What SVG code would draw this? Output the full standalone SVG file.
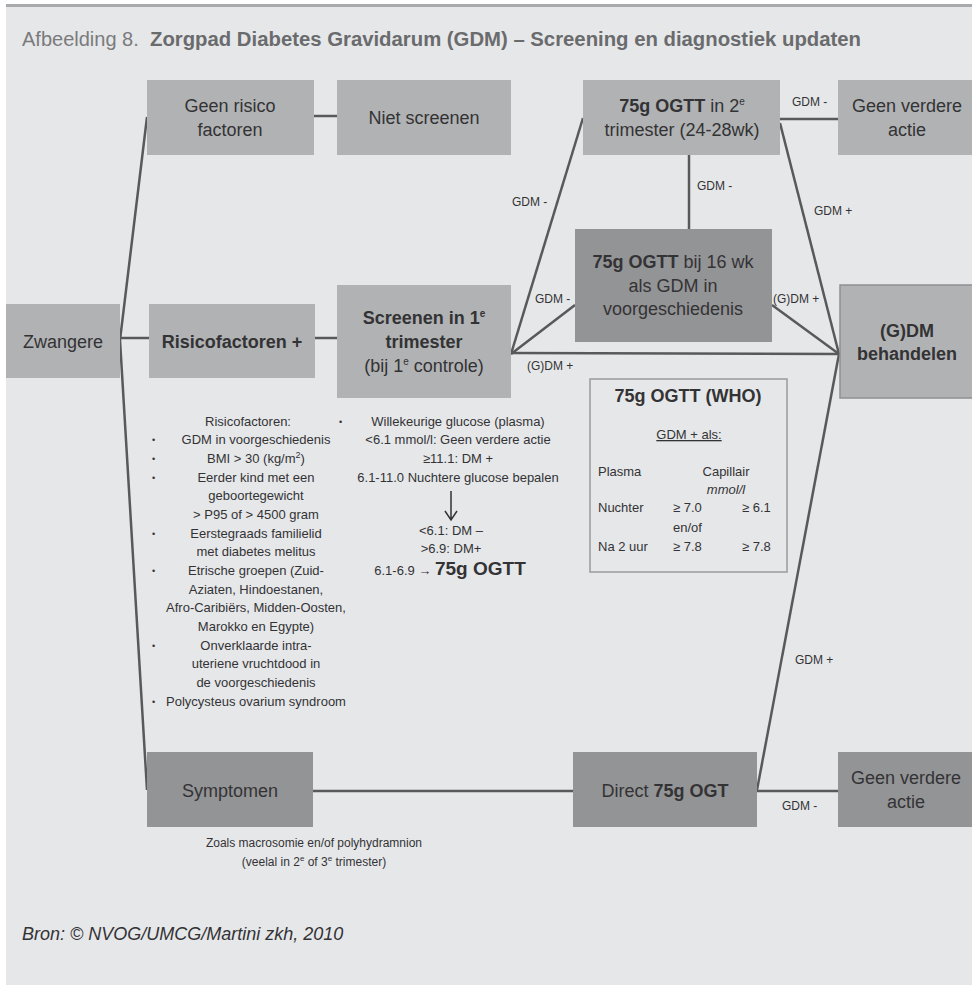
<svg xmlns="http://www.w3.org/2000/svg" width="972" height="985" viewBox="0 0 972 985">
<style>
text{font-family:"Liberation Sans",Arial,sans-serif;fill:#333335}
.n{font-size:18px;text-anchor:middle}
.b{font-weight:bold}
.lbl{font-size:12px}
.s{font-size:13px;text-anchor:middle}
.w{font-size:13px}
.light{fill:#b1b2b4}
.dark{fill:#939496}
.conn path{stroke:#58595b;stroke-width:2.5;fill:none}
</style>
<rect x="0" y="0" width="972" height="985" fill="#ffffff"/>
<rect x="6" y="5" width="966" height="980" fill="#e6e7e9"/>
<rect x="6" y="4" width="966" height="3" fill="#a9aaac"/>
<text x="22" y="46" font-size="20" style="fill:#7a7b7d">Afbeelding 8. <tspan class="b" style="fill:#6a6b6d" x="150" textLength="711" lengthAdjust="spacingAndGlyphs">Zorgpad Diabetes Gravidarum (GDM) – Screening en diagnostiek updaten</tspan></text>

<g class="conn">
<path d="M147,117 L120,340 L147,790"/>
<path d="M120,338 H149"/>
<path d="M315,338 H337"/>
<path d="M314,116 H337"/>
<path d="M511,354 L583,118"/>
<path d="M511,354 L575,305"/>
<path d="M511,353 L839,354"/>
<path d="M689,155 V229"/>
<path d="M780,119 H838"/>
<path d="M780,123 L839,354"/>
<path d="M772,305 L839,354"/>
<path d="M839,354 L757,790"/>
<path d="M313,791 H573"/>
<path d="M757,791 H838"/>
</g>
<g id="edge-labels">
<text class="lbl" x="512" y="206">GDM -</text>
<text class="lbl" x="535" y="303">GDM -</text>
<text class="lbl" x="527" y="370">(G)DM +</text>
<text class="lbl" x="697" y="190">GDM -</text>
<text class="lbl" x="792" y="106">GDM -</text>
<text class="lbl" x="814" y="215">GDM +</text>
<text class="lbl" x="773" y="303">(G)DM +</text>
<text class="lbl" x="795" y="664">GDM +</text>
<text class="lbl" x="782" y="810">GDM -</text>
</g>

<g id="geen-risico">
<rect class="light" x="147" y="80" width="167" height="75"/>
<text class="n" x="230" y="112">Geen risico</text>
<text class="n" x="230" y="136">factoren</text>
</g>
<g id="niet-screenen">
<rect class="light" x="337" y="80" width="174" height="75"/>
<text class="n" x="424" y="124">Niet screenen</text>
</g>
<g id="zwangere">
<rect class="light" x="6" y="304" width="114" height="74"/>
<text class="n" x="63" y="348">Zwangere</text>
</g>
<g id="risicofactoren">
<rect class="light" x="149" y="304" width="166" height="74"/>
<text class="n b" x="232" y="348">Risicofactoren +</text>
</g>
<g id="screenen">
<rect class="light" x="337" y="285" width="174" height="113"/>
<text class="n b" x="424" y="324">Screenen in 1<tspan font-size="10" dy="-7">e</tspan></text>
<text class="n b" x="424" y="348">trimester</text>
<text class="n" x="424" y="372">(bij 1<tspan font-size="10" dy="-7">e</tspan><tspan dy="7"> controle)</tspan></text>
</g>
<g id="ogtt-2e">
<rect class="light" x="583" y="80" width="197" height="75"/>
<text class="n" x="682" y="112"><tspan class="b">75g OGTT</tspan> in 2<tspan font-size="10" dy="-7">e</tspan></text>
<text class="n" x="682" y="136">trimester (24-28wk)</text>
</g>
<g id="geen-actie-top">
<rect class="light" x="838" y="80" width="134" height="75"/>
<text class="n" x="907" y="112">Geen verdere</text>
<text class="n" x="907" y="136">actie</text>
</g>
<g id="ogtt-16wk">
<rect class="dark" x="575" y="229" width="197" height="113"/>
<text class="n" x="673" y="268"><tspan class="b">75g OGTT</tspan> bij 16 wk</text>
<text class="n" x="673" y="292">als GDM in</text>
<text class="n" x="673" y="315">voorgeschiedenis</text>
</g>
<g id="behandelen">
<rect x="840" y="285" width="140" height="113" fill="#b1b2b4" stroke="#8f9092" stroke-width="1.5"/>
<text class="n b" x="907" y="337">(G)DM</text>
<text class="n b" x="907" y="360">behandelen</text>
</g>
<g id="who">
<rect x="590" y="379" width="197" height="193" fill="none" stroke="#9a9b9d" stroke-width="1.5"/>
<text class="b" x="688" y="402" font-size="18" text-anchor="middle">75g OGTT (WHO)</text>
<text class="w" x="689" y="439" text-anchor="middle" text-decoration="underline">GDM + als:</text>
<text class="w" x="598" y="476">Plasma</text>
<text class="w" x="726" y="476" text-anchor="middle">Capillair</text>
<text class="w" x="726" y="494" text-anchor="middle" font-style="italic">mmol/l</text>
<text class="w" x="598" y="512">Nuchter</text>
<text class="w" x="673" y="512">≥ 7.0</text>
<text class="w" x="742" y="512">≥ 6.1</text>
<text class="w" x="673" y="532">en/of</text>
<text class="w" x="598" y="551">Na 2 uur</text>
<text class="w" x="673" y="551">≥ 7.8</text>
<text class="w" x="742" y="551">≥ 7.8</text>
</g>
<g id="symptomen">
<rect class="dark" x="147" y="752" width="166" height="75"/>
<text class="n" x="230" y="797">Symptomen</text>
</g>
<g id="direct-ogt">
<rect class="dark" x="573" y="752" width="184" height="75"/>
<text class="n" x="665" y="797">Direct <tspan class="b">75g OGT</tspan></text>
</g>
<g id="geen-actie-bottom">
<rect class="dark" x="838" y="752" width="134" height="75"/>
<text class="n" x="906" y="784">Geen verdere</text>
<text class="n" x="906" y="808">actie</text>
</g>

<g id="risico-lijst">
<text class="s" x="248" y="426">Risicofactoren:</text>
<g font-size="9">
<text x="152" y="443">•</text><text x="152" y="462">•</text><text x="152" y="481">•</text><text x="152" y="537">•</text><text x="152" y="574">•</text><text x="152" y="649">•</text><text x="152" y="705">•</text>
</g>
<text class="s" x="256" y="444">GDM in voorgeschiedenis</text>
<text class="s" x="256" y="463">BMI &gt; 30 (kg/m<tspan font-size="9" dy="-5">2</tspan><tspan dy="5">)</tspan></text>
<text class="s" x="256" y="482">Eerder kind met een</text>
<text class="s" x="256" y="500">geboortegewicht</text>
<text class="s" x="256" y="519">&gt; P95 of &gt; 4500 gram</text>
<text class="s" x="256" y="538">Eerstegraads familielid</text>
<text class="s" x="256" y="556">met diabetes melitus</text>
<text class="s" x="256" y="575">Etrische groepen (Zuid-</text>
<text class="s" x="256" y="594">Aziaten, Hindoestanen,</text>
<text class="s" x="256" y="612">Afro-Caribiërs, Midden-Oosten,</text>
<text class="s" x="256" y="631">Marokko en Egypte)</text>
<text class="s" x="256" y="650">Onverklaarde intra-</text>
<text class="s" x="256" y="668">uteriene vruchtdood in</text>
<text class="s" x="256" y="687">de voorgeschiedenis</text>
<text class="s" x="256" y="706">Polycysteus ovarium syndroom</text>
</g>
<g id="screening-lijst">
<text x="339" y="425" font-size="9">•</text>
<text class="s" x="458" y="426">Willekeurige glucose (plasma)</text>
<text class="s" x="458" y="444">&lt;6.1 mmol/l: Geen verdere actie</text>
<text class="s" x="458" y="463">≥11.1: DM +</text>
<text class="s" x="458" y="482">6.1-11.0 Nuchtere glucose bepalen</text>
<path d="M451,491 V519 M445,511 L451,520 L457,511" stroke="#333335" stroke-width="1.5" fill="none"/>
<text class="s" x="451" y="535">&lt;6.1: DM –</text>
<text class="s" x="451" y="553">&gt;6.9: DM+</text>
<text class="s" x="450" y="575">6.1-6.9 → <tspan class="b" font-size="19">75g OGTT</tspan></text>
</g>

<text x="314" y="847" font-size="12" text-anchor="middle">Zoals macrosomie en/of polyhydramnion</text>
<text x="314" y="866" font-size="12" text-anchor="middle">(veelal in 2<tspan font-size="8" dy="-5">e</tspan><tspan dy="5"> of 3</tspan><tspan font-size="8" dy="-5">e</tspan><tspan dy="5"> trimester)</tspan></text>
<text x="22" y="940" font-size="18" font-style="italic">Bron: © NVOG/UMCG/Martini zkh, 2010</text>
</svg>
